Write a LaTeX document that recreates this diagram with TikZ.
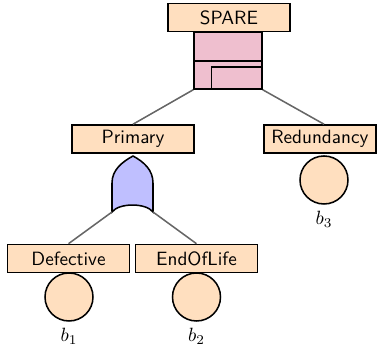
\documentclass[tikz,border=0pt]{standalone}
\usetikzlibrary{calc}
\begin{document}
\begin{tikzpicture}[x=0.5208pt,y=-0.5208pt,
  labelbox/.style={draw=black, thick, fill=orange!25, font=\sffamily,
    minimum width=63.5pt, minimum height=14.6pt, inner sep=0pt},
  widebox/.style={draw=black, thick, fill=orange!25, font=\sffamily,
    minimum height=14.6pt, inner ysep=0pt, inner xsep=3.9pt},
  sparegate/.style={draw=black, thick, fill=purple!25,
    minimum width=35.4pt, minimum height=29.7pt, inner sep=0pt},
  orgate/.style={draw=black, thick, fill=blue!25},
  basic/.style={circle, draw=black, thick, fill=orange!25,
    minimum size=25pt, inner sep=0pt},
  evname/.style={anchor=north, inner sep=3.33pt},
  wire/.style={draw=black!60, thick}]
\useasboundingbox (0,0) rectangle (377,355);

% top event: spare gate
\node[labelbox] (topl) at (229,17.5) {SPARE};
\node[sparegate] (spare) at (228,60.5) {};
\draw[thick] ($(spare.north west)!0.509!(spare.south west)$)
  -- ($(spare.north east)!0.509!(spare.south east)$);
\draw[thick] ($(spare.south west)!0.265!(spare.south east)$)
  |- ($(spare.north east)!0.614!(spare.south east)$);

% second level
\node[labelbox] (primary) at (133,139) {Primary};
\node[widebox, anchor=west] (redund) at (263,139) {Redundancy};
\node[basic] (b3c) at (324,180) {};
\node[evname] (b3l) at (b3c.south) {$b_3$};

% OR gate under Primary
\draw[orgate] (112,212) -- (112,183)
  .. controls (112,170) and (122,162) .. (133,156)
  .. controls (144,162) and (153,170) .. (153,183)
  -- (153,212)
  .. controls (146,202.7) and (119,202.7) .. (112,212) -- cycle;
\coordinate (orL) at (112,212);
\coordinate (orR) at (153,212);

% leaves
\node[labelbox] (defect) at (68.5,258.5) {Defective};
\node[labelbox] (eol) at (196.5,258.5) {EndOfLife};
\node[basic] (b1c) at (69,297) {};
\node[basic] (b2c) at (196.5,297) {};
\node[evname] (b1l) at (b1c.south) {$b_1$};
\node[evname] (b2l) at (b2c.south) {$b_2$};

% connectors
\draw[wire] (spare.south west) -- (primary.north);
\draw[wire] (spare.south east) -- (redund.north -| b3c);
\draw[wire] (orL) -- (defect.north);
\draw[wire] (orR) -- (eol.north);
\end{tikzpicture}
\end{document}
